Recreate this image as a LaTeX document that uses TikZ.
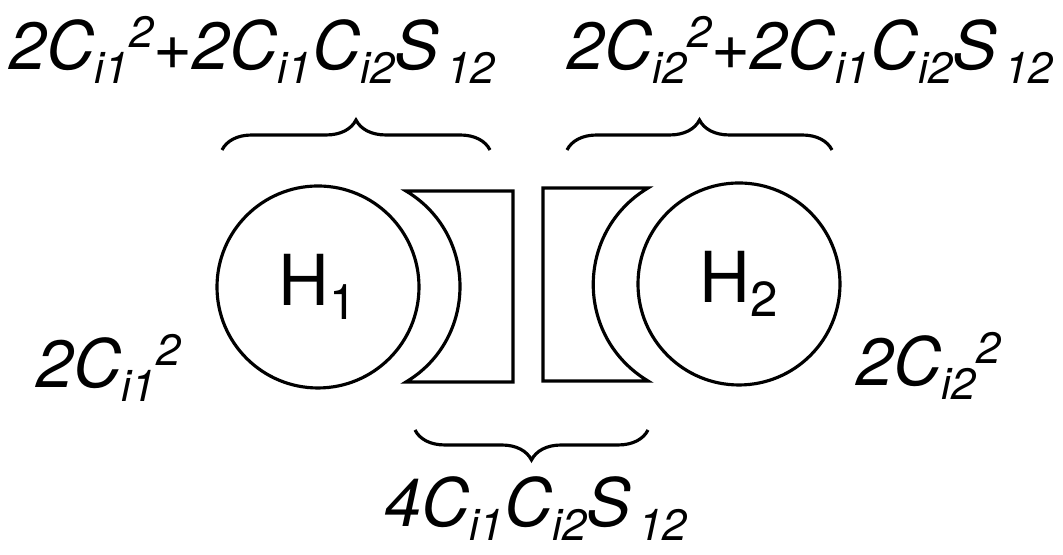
\documentclass[tikz,border=0pt]{standalone}
\usepackage{fontspec}
\setmainfont{TeX Gyre Heros}
\usetikzlibrary{decorations.pathreplacing,positioning}
\newcommand{\lo}[1]{\raisebox{-1.4mm}{\fontsize{12.5}{12.5}\selectfont #1}}
\newcommand{\hi}[1]{\raisebox{2.2mm}{\fontsize{12.5}{12.5}\selectfont #1}}

\begin{document}
\begin{tikzpicture}[x=0.1mm, y=-0.1mm, line width=0.9pt, every node/.style={inner sep=0pt}, lbl/.style={font=\fontsize{19}{22}\selectfont\itshape}, atom/.style={draw,circle,minimum size=20.2mm,font=\fontsize{20}{22}\selectfont}, brc/.style={decorate,decoration={brace,amplitude=3mm}}]
\useasboundingbox (0,0) rectangle (1063,555);
% atoms
\node[atom] (h1) at (318,287) {H\lo{\fontsize{14}{14}\selectfont 1}};
\node[atom] (h2) at (739,284) {H\lo{\fontsize{14}{14}\selectfont 2}};
% overlap lobes
\draw (406,191) -- (513,191) -- (513,382) -- (406,382) .. controls (478,339) and (478,234) .. (406,191) -- cycle;
\draw (648,188) -- (543,188) -- (543,381) -- (648,381) .. controls (575,337) and (575,232) .. (648,188) -- cycle;
% braces
\coordinate (b1a) at (222,150); \coordinate (b1b) at (490,150);
\coordinate (b2a) at (567,150); \coordinate (b2b) at (832,150);
\coordinate (b3a) at (648,430); \coordinate (b3b) at (415,430);
\draw[brc] (b1a) -- (b1b);
\draw[brc] (b2a) -- (b2b);
\draw[brc] (b3a) -- (b3b);
% labels
\node[lbl,anchor=base west] (t1) at (8,70) {2C\lo{i1}\hi{2}+2C\lo{i1}C\lo{i2}S\lo{\,12}};
\node[lbl,anchor=base west] (t2) at (566,70) {2C\lo{i2}\hi{2}+2C\lo{i1}C\lo{i2}S\lo{\,12}};
\node[lbl,anchor=base west] (l1) at (35,388) {2C\lo{i1}\hi{2}};
\node[lbl,anchor=base west] (l2) at (855,386) {2C\lo{i2}\hi{2}};
\node[lbl,anchor=base west] (b1) at (383,527) {4C\lo{i1}C\lo{i2}S\lo{\,12}};
\end{tikzpicture}
\end{document}
